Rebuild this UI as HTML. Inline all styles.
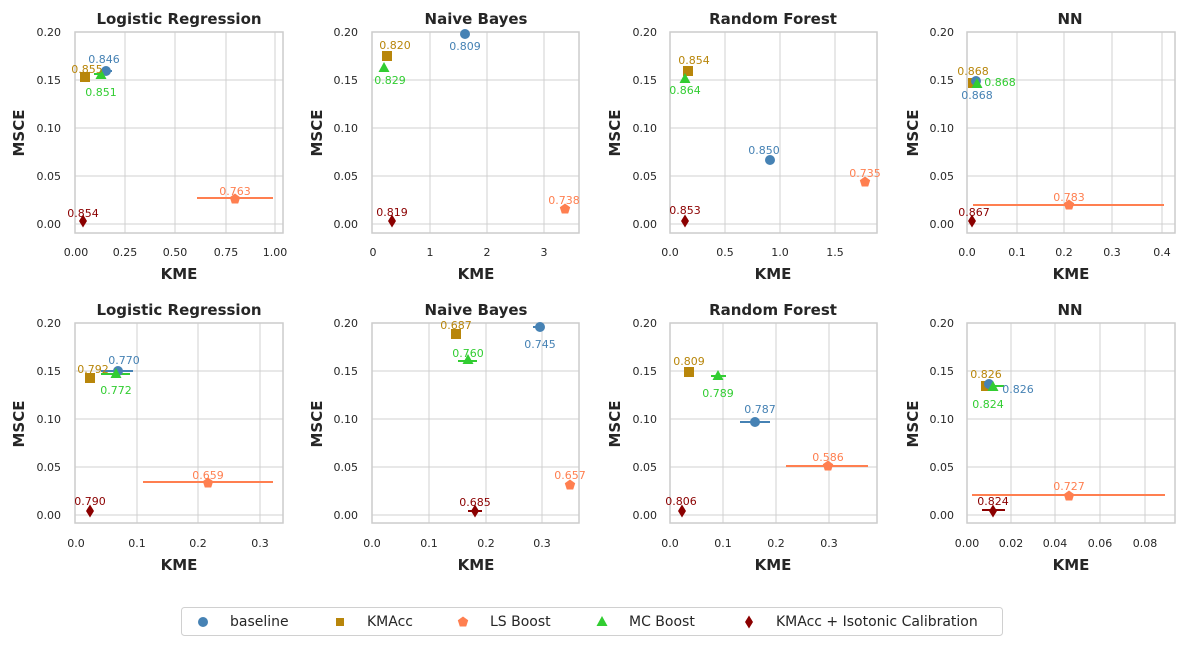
<!DOCTYPE html>
<html><head><meta charset="utf-8"><style>
html,body{margin:0;padding:0;background:#fff;}
svg{display:block;font-family:"DejaVu Sans","Liberation Sans",sans-serif;}
.tk{font-size:11px;fill:#262626;}
.tt{font-size:15px;font-weight:bold;fill:#262626;}
.al{font-size:15px;font-weight:bold;fill:#262626;}
.an{font-size:11px;text-anchor:middle;}
.g{stroke:#d0d0d0;stroke-width:1;}
.fr{fill:none;stroke:#cccccc;stroke-width:1.5;}
.lg{font-size:14px;fill:#262626;}
</style></head><body>
<svg width="1184" height="645" viewBox="0 0 1184 645">
<defs>
<circle id="mc" r="5" fill="#4682b4"/>
<rect id="ms" x="-5" y="-5" width="10" height="10" fill="#b8860b"/>
<polygon id="mp" points="0,-5.5 5.2,-1.7 3.2,4.5 -3.2,4.5 -5.2,-1.7" fill="#ff7f50"/>
<polygon id="mt" points="0,-6 5.5,4 -5.5,4" fill="#32cd32"/>
<polygon id="md" points="0,-6.5 4,0 0,6.5 -4,0" fill="#8b0000"/>
<rect id="mss" x="-4" y="-4" width="8" height="8" fill="#b8860b"/>
</defs>

<!-- Panel 1 -->
<g>
<line class="g" x1="75" y1="32" x2="283" y2="32"/><line class="g" x1="75" y1="80" x2="283" y2="80"/><line class="g" x1="75" y1="128" x2="283" y2="128"/><line class="g" x1="75" y1="176" x2="283" y2="176"/><line class="g" x1="75" y1="224" x2="283" y2="224"/>
<line class="g" x1="125" y1="32" x2="125" y2="233"/><line class="g" x1="175" y1="32" x2="175" y2="233"/><line class="g" x1="226" y1="32" x2="226" y2="233"/><line class="g" x1="275" y1="32" x2="275" y2="233"/>
<rect class="fr" x="75" y="32" width="208" height="201"/>
<text class="tt" x="179" y="24" text-anchor="middle">Logistic Regression</text>
<g class="tk" text-anchor="end"><text x="61" y="36">0.20</text><text x="61" y="84">0.15</text><text x="61" y="132">0.10</text><text x="61" y="180">0.05</text><text x="61" y="228">0.00</text></g>
<g class="tk" text-anchor="middle"><text x="76" y="256">0.00</text><text x="125" y="256">0.25</text><text x="175" y="256">0.50</text><text x="226" y="256">0.75</text><text x="275" y="256">1.00</text></g>
<text class="al" x="179" y="279" text-anchor="middle">KME</text>
<text class="al" transform="translate(24,133) rotate(-90)" text-anchor="middle">MSCE</text>
<line x1="197" y1="198" x2="273" y2="198" stroke="#ff7f50" stroke-width="2"/>
<line x1="101" y1="71" x2="112" y2="71" stroke="#4682b4" stroke-width="2"/>
<line x1="94" y1="74" x2="108" y2="74" stroke="#32cd32" stroke-width="2"/>
<use href="#mc" x="106" y="71"/><use href="#ms" x="85" y="77"/><use href="#mt" x="101" y="75"/><use href="#mp" x="235" y="199"/><use href="#md" x="83" y="221"/>
<text class="an" x="104" y="63" fill="#4682b4">0.846</text>
<text class="an" x="87" y="73" fill="#b8860b">0.855</text>
<text class="an" x="101" y="96" fill="#32cd32">0.851</text>
<text class="an" x="235" y="195" fill="#ff7f50">0.763</text>
<text class="an" x="83" y="217" fill="#8b0000">0.854</text>
</g>

<!-- Panel 2 -->
<g transform="translate(-2,0)">
<line class="g" x1="374" y1="32" x2="581" y2="32"/><line class="g" x1="374" y1="80" x2="581" y2="80"/><line class="g" x1="374" y1="128" x2="581" y2="128"/><line class="g" x1="374" y1="176" x2="581" y2="176"/><line class="g" x1="374" y1="224" x2="581" y2="224"/>
<line class="g" x1="432" y1="32" x2="432" y2="233"/><line class="g" x1="489" y1="32" x2="489" y2="233"/><line class="g" x1="546" y1="32" x2="546" y2="233"/>
<rect class="fr" x="374" y="32" width="207" height="201"/>
<text class="tt" x="478" y="24" text-anchor="middle">Naive Bayes</text>
<g class="tk" text-anchor="end"><text x="360" y="36">0.20</text><text x="360" y="84">0.15</text><text x="360" y="132">0.10</text><text x="360" y="180">0.05</text><text x="360" y="228">0.00</text></g>
<g class="tk" text-anchor="middle"><text x="375" y="256">0</text><text x="432" y="256">1</text><text x="489" y="256">2</text><text x="546" y="256">3</text></g>
<text class="al" x="478" y="279" text-anchor="middle">KME</text>
<text class="al" transform="translate(324,133) rotate(-90)" text-anchor="middle">MSCE</text>
<use href="#mc" x="467" y="34"/><use href="#ms" x="389" y="56"/><use href="#mt" x="386" y="68"/><use href="#mp" x="567" y="209"/><use href="#md" x="394" y="221"/>
<text class="an" x="467" y="50" fill="#4682b4">0.809</text>
<text class="an" x="397" y="49" fill="#b8860b">0.820</text>
<text class="an" x="392" y="84" fill="#32cd32">0.829</text>
<text class="an" x="566" y="204" fill="#ff7f50">0.738</text>
<text class="an" x="394" y="216" fill="#8b0000">0.819</text>
</g>

<!-- Panel 3 -->
<g>
<line class="g" x1="670" y1="32" x2="877" y2="32"/><line class="g" x1="670" y1="80" x2="877" y2="80"/><line class="g" x1="670" y1="128" x2="877" y2="128"/><line class="g" x1="670" y1="176" x2="877" y2="176"/><line class="g" x1="670" y1="224" x2="877" y2="224"/>
<line class="g" x1="725" y1="32" x2="725" y2="233"/><line class="g" x1="780" y1="32" x2="780" y2="233"/><line class="g" x1="835" y1="32" x2="835" y2="233"/>
<rect class="fr" x="670" y="32" width="207" height="201"/>
<text class="tt" x="773" y="24" text-anchor="middle">Random Forest</text>
<g class="tk" text-anchor="end"><text x="657" y="36">0.20</text><text x="657" y="84">0.15</text><text x="657" y="132">0.10</text><text x="657" y="180">0.05</text><text x="657" y="228">0.00</text></g>
<g class="tk" text-anchor="middle"><text x="670" y="256">0.0</text><text x="725" y="256">0.5</text><text x="780" y="256">1.0</text><text x="835" y="256">1.5</text></g>
<text class="al" x="773" y="279" text-anchor="middle">KME</text>
<text class="al" transform="translate(620,133) rotate(-90)" text-anchor="middle">MSCE</text>
<use href="#mc" x="770" y="160"/><use href="#ms" x="688" y="71"/><use href="#mt" x="685" y="79"/><use href="#mp" x="865" y="182"/><use href="#md" x="685" y="221"/>
<text class="an" x="764" y="154" fill="#4682b4">0.850</text>
<text class="an" x="694" y="64" fill="#b8860b">0.854</text>
<text class="an" x="685" y="94" fill="#32cd32">0.864</text>
<text class="an" x="865" y="177" fill="#ff7f50">0.735</text>
<text class="an" x="685" y="214" fill="#8b0000">0.853</text>
</g>

<!-- Panel 4 -->
<g transform="translate(-2,0)">
<line class="g" x1="969" y1="32" x2="1177" y2="32"/><line class="g" x1="969" y1="80" x2="1177" y2="80"/><line class="g" x1="969" y1="128" x2="1177" y2="128"/><line class="g" x1="969" y1="176" x2="1177" y2="176"/><line class="g" x1="969" y1="224" x2="1177" y2="224"/>
<line class="g" x1="1019" y1="32" x2="1019" y2="233"/><line class="g" x1="1066" y1="32" x2="1066" y2="233"/><line class="g" x1="1114" y1="32" x2="1114" y2="233"/><line class="g" x1="1164" y1="32" x2="1164" y2="233"/>
<rect class="fr" x="969" y="32" width="208" height="201"/>
<text class="tt" x="1072" y="24" text-anchor="middle">NN</text>
<g class="tk" text-anchor="end"><text x="956" y="36">0.20</text><text x="956" y="84">0.15</text><text x="956" y="132">0.10</text><text x="956" y="180">0.05</text><text x="956" y="228">0.00</text></g>
<g class="tk" text-anchor="middle"><text x="969" y="256">0.0</text><text x="1019" y="256">0.1</text><text x="1066" y="256">0.2</text><text x="1114" y="256">0.3</text><text x="1164" y="256">0.4</text></g>
<text class="al" x="1073" y="279" text-anchor="middle">KME</text>
<text class="al" transform="translate(920,133) rotate(-90)" text-anchor="middle">MSCE</text>
<line x1="975" y1="205" x2="1166" y2="205" stroke="#ff7f50" stroke-width="2"/>
<use href="#ms" x="975" y="83"/><use href="#mc" x="978" y="81"/><use href="#mt" x="979" y="84"/><use href="#mp" x="1071" y="205"/><use href="#md" x="974" y="221"/>
<text class="an" x="975" y="75" fill="#b8860b">0.868</text>
<text class="an" x="979" y="99" fill="#4682b4">0.868</text>
<text class="an" x="1002" y="86" fill="#32cd32">0.868</text>
<text class="an" x="1071" y="201" fill="#ff7f50">0.783</text>
<text class="an" x="976" y="216" fill="#8b0000">0.867</text>
</g>

<!-- Panel 5 -->
<g>
<line class="g" x1="75" y1="323" x2="283" y2="323"/><line class="g" x1="75" y1="371" x2="283" y2="371"/><line class="g" x1="75" y1="419" x2="283" y2="419"/><line class="g" x1="75" y1="467" x2="283" y2="467"/><line class="g" x1="75" y1="515" x2="283" y2="515"/>
<line class="g" x1="137" y1="323" x2="137" y2="523"/><line class="g" x1="198" y1="323" x2="198" y2="523"/><line class="g" x1="260" y1="323" x2="260" y2="523"/>
<rect class="fr" x="75" y="323" width="208" height="200"/>
<text class="tt" x="179" y="315" text-anchor="middle">Logistic Regression</text>
<g class="tk" text-anchor="end"><text x="61" y="327">0.20</text><text x="61" y="375">0.15</text><text x="61" y="423">0.10</text><text x="61" y="471">0.05</text><text x="61" y="519">0.00</text></g>
<g class="tk" text-anchor="middle"><text x="76" y="547">0.0</text><text x="137" y="547">0.1</text><text x="198" y="547">0.2</text><text x="260" y="547">0.3</text></g>
<text class="al" x="179" y="570" text-anchor="middle">KME</text>
<text class="al" transform="translate(24,424) rotate(-90)" text-anchor="middle">MSCE</text>
<line x1="143" y1="482" x2="273" y2="482" stroke="#ff7f50" stroke-width="2"/>
<line x1="101" y1="371" x2="133" y2="371" stroke="#4682b4" stroke-width="2"/>
<line x1="101" y1="374" x2="130" y2="374" stroke="#32cd32" stroke-width="2"/>
<use href="#mc" x="118" y="371"/><use href="#ms" x="90" y="378"/><use href="#mt" x="116" y="374"/><use href="#mp" x="208" y="483"/><use href="#md" x="90" y="511"/>
<text class="an" x="124" y="364" fill="#4682b4">0.770</text>
<text class="an" x="93" y="373" fill="#b8860b">0.792</text>
<text class="an" x="116" y="394" fill="#32cd32">0.772</text>
<text class="an" x="208" y="479" fill="#ff7f50">0.659</text>
<text class="an" x="90" y="505" fill="#8b0000">0.790</text>
</g>

<!-- Panel 6 -->
<g transform="translate(-2,0)">
<line class="g" x1="374" y1="323" x2="581" y2="323"/><line class="g" x1="374" y1="371" x2="581" y2="371"/><line class="g" x1="374" y1="419" x2="581" y2="419"/><line class="g" x1="374" y1="467" x2="581" y2="467"/><line class="g" x1="374" y1="515" x2="581" y2="515"/>
<line class="g" x1="431" y1="323" x2="431" y2="523"/><line class="g" x1="488" y1="323" x2="488" y2="523"/><line class="g" x1="544" y1="323" x2="544" y2="523"/>
<rect class="fr" x="374" y="323" width="207" height="200"/>
<text class="tt" x="478" y="315" text-anchor="middle">Naive Bayes</text>
<g class="tk" text-anchor="end"><text x="360" y="327">0.20</text><text x="360" y="375">0.15</text><text x="360" y="423">0.10</text><text x="360" y="471">0.05</text><text x="360" y="519">0.00</text></g>
<g class="tk" text-anchor="middle"><text x="374" y="547">0.0</text><text x="431" y="547">0.1</text><text x="488" y="547">0.2</text><text x="544" y="547">0.3</text></g>
<text class="al" x="478" y="570" text-anchor="middle">KME</text>
<text class="al" transform="translate(324,424) rotate(-90)" text-anchor="middle">MSCE</text>
<line x1="453" y1="334" x2="462" y2="334" stroke="#b8860b" stroke-width="2"/>
<line x1="535" y1="327" x2="546" y2="327" stroke="#4682b4" stroke-width="2"/>
<line x1="460" y1="361" x2="479" y2="361" stroke="#32cd32" stroke-width="2"/>
<line x1="470" y1="511" x2="484" y2="511" stroke="#8b0000" stroke-width="2"/>
<use href="#mc" x="542" y="327"/><use href="#ms" x="458" y="334"/><use href="#mt" x="470" y="360"/><use href="#mp" x="572" y="485"/><use href="#md" x="477" y="511"/>
<text class="an" x="542" y="348" fill="#4682b4">0.745</text>
<text class="an" x="458" y="329" fill="#b8860b">0.687</text>
<text class="an" x="470" y="357" fill="#32cd32">0.760</text>
<text class="an" x="572" y="479" fill="#ff7f50">0.657</text>
<text class="an" x="477" y="506" fill="#8b0000">0.685</text>
</g>

<!-- Panel 7 -->
<g>
<line class="g" x1="670" y1="323" x2="877" y2="323"/><line class="g" x1="670" y1="371" x2="877" y2="371"/><line class="g" x1="670" y1="419" x2="877" y2="419"/><line class="g" x1="670" y1="467" x2="877" y2="467"/><line class="g" x1="670" y1="515" x2="877" y2="515"/>
<line class="g" x1="723" y1="323" x2="723" y2="523"/><line class="g" x1="776" y1="323" x2="776" y2="523"/><line class="g" x1="829" y1="323" x2="829" y2="523"/>
<rect class="fr" x="670" y="323" width="207" height="200"/>
<text class="tt" x="773" y="315" text-anchor="middle">Random Forest</text>
<g class="tk" text-anchor="end"><text x="657" y="327">0.20</text><text x="657" y="375">0.15</text><text x="657" y="423">0.10</text><text x="657" y="471">0.05</text><text x="657" y="519">0.00</text></g>
<g class="tk" text-anchor="middle"><text x="670" y="547">0.0</text><text x="723" y="547">0.1</text><text x="776" y="547">0.2</text><text x="829" y="547">0.3</text></g>
<text class="al" x="773" y="570" text-anchor="middle">KME</text>
<text class="al" transform="translate(620,424) rotate(-90)" text-anchor="middle">MSCE</text>
<line x1="786" y1="466" x2="868" y2="466" stroke="#ff7f50" stroke-width="2"/>
<line x1="740" y1="422" x2="770" y2="422" stroke="#4682b4" stroke-width="2"/>
<line x1="711" y1="376" x2="726" y2="376" stroke="#32cd32" stroke-width="2"/>
<use href="#mc" x="755" y="422"/><use href="#ms" x="689" y="372"/><use href="#mt" x="718" y="376"/><use href="#mp" x="828" y="466"/><use href="#md" x="682" y="511"/>
<text class="an" x="760" y="413" fill="#4682b4">0.787</text>
<text class="an" x="689" y="365" fill="#b8860b">0.809</text>
<text class="an" x="718" y="397" fill="#32cd32">0.789</text>
<text class="an" x="828" y="461" fill="#ff7f50">0.586</text>
<text class="an" x="681" y="505" fill="#8b0000">0.806</text>
</g>

<!-- Panel 8 -->
<g transform="translate(-2,0)">
<line class="g" x1="969" y1="323" x2="1177" y2="323"/><line class="g" x1="969" y1="371" x2="1177" y2="371"/><line class="g" x1="969" y1="419" x2="1177" y2="419"/><line class="g" x1="969" y1="467" x2="1177" y2="467"/><line class="g" x1="969" y1="515" x2="1177" y2="515"/>
<line class="g" x1="1013" y1="323" x2="1013" y2="523"/><line class="g" x1="1057" y1="323" x2="1057" y2="523"/><line class="g" x1="1102" y1="323" x2="1102" y2="523"/><line class="g" x1="1147" y1="323" x2="1147" y2="523"/>
<rect class="fr" x="969" y="323" width="208" height="200"/>
<text class="tt" x="1072" y="315" text-anchor="middle">NN</text>
<g class="tk" text-anchor="end"><text x="956" y="327">0.20</text><text x="956" y="375">0.15</text><text x="956" y="423">0.10</text><text x="956" y="471">0.05</text><text x="956" y="519">0.00</text></g>
<g class="tk" text-anchor="middle"><text x="969" y="547">0.00</text><text x="1013" y="547">0.02</text><text x="1057" y="547">0.04</text><text x="1102" y="547">0.06</text><text x="1147" y="547">0.08</text></g>
<text class="al" x="1073" y="570" text-anchor="middle">KME</text>
<text class="al" transform="translate(920,424) rotate(-90)" text-anchor="middle">MSCE</text>
<line x1="974" y1="495" x2="1167" y2="495" stroke="#ff7f50" stroke-width="2"/>
<line x1="983" y1="386" x2="1006" y2="386" stroke="#32cd32" stroke-width="2"/>
<line x1="984" y1="510" x2="1007" y2="510" stroke="#8b0000" stroke-width="2"/>
<use href="#ms" x="988" y="386"/><use href="#mc" x="991" y="384"/><use href="#mt" x="995" y="387"/><use href="#mp" x="1071" y="496"/><use href="#md" x="995" y="511"/>
<text class="an" x="988" y="378" fill="#b8860b">0.826</text>
<text class="an" x="1020" y="393" fill="#4682b4">0.826</text>
<text class="an" x="990" y="408" fill="#32cd32">0.824</text>
<text class="an" x="1071" y="490" fill="#ff7f50">0.727</text>
<text class="an" x="995" y="505" fill="#8b0000">0.824</text>
</g>

<!-- Legend -->
<rect x="181.5" y="607.5" width="821" height="28" rx="3" fill="#fff" stroke="#d0d0d0" stroke-width="1"/>
<use href="#mc" x="203" y="622"/>
<text class="lg" x="230" y="626">baseline</text>
<use href="#mss" x="340" y="622"/>
<text class="lg" x="367" y="626">KMAcc</text>
<use href="#mp" x="463" y="622"/>
<text class="lg" x="490" y="626">LS Boost</text>
<use href="#mt" x="602" y="622"/>
<text class="lg" x="629" y="626">MC Boost</text>
<use href="#md" x="749" y="622"/>
<text class="lg" x="776" y="626">KMAcc + Isotonic Calibration</text>
</svg>
</body></html>
